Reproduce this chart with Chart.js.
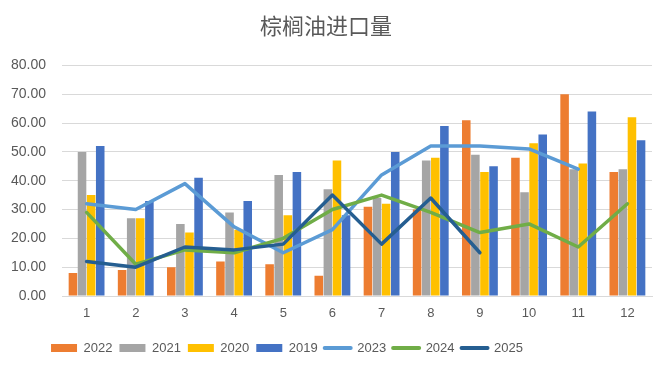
<!DOCTYPE html>
<html>
<head>
<meta charset="utf-8">
<script src="https://cdn.jsdelivr.net/npm/chart.js@4/dist/chart.umd.min.js"></script>
<style>
  body { margin: 0; background: #ffffff; }
  #box { width: 670px; height: 372px; }
</style>
</head>
<body>
<div id="box"><canvas id="grafico" width="670" height="372"></canvas></div>
<script>
// dati
var mesi = ['1', '2', '3', '4', '5', '6', '7', '8', '9', '10', '11', '12'];
var anno2022 = [8, 9, 10, 12, 11, 7, 31, 30, 61, 48, 70, 43];
var anno2021 = [50, 27, 25, 29, 42, 37, 34, 47, 49, 36, 44, 44];
var anno2020 = [35, 27, 22, 23, 28, 47, 32, 48, 43, 53, 46, 62];
var anno2019 = [52, 33, 41, 33, 43, 28, 50, 59, 45, 56, 64, 54];
var anno2023 = [32, 30, 39, 24, 15, 23, 42, 52, 52, 51, 44, null];
var anno2024 = [29, 11, 16, 15, 20, 30, 35, 29, 22, 25, 17, 32];
var anno2025 = [12, 10, 17, 16, 18, 35, 18, 34, 15, null, null, null];
var tickY = [0, 10, 20, 30, 40, 50, 60, 70, 80];

var grigioTesto = '#595959';

function barra(label, dati, colore) {
    return {
        type: 'bar',
        label: label,
        data: dati,
        backgroundColor: colore,
        borderWidth: 0,
        order: 4,
        categoryPercentage: 0.74,
        barPercentage: 0.94
    };
}

function linea(label, dati, colore, ordine) {
    return {
        type: 'line',
        label: label,
        data: dati,
        borderColor: colore,
        backgroundColor: colore,
        borderWidth: 3.5,
        pointRadius: 0,
        tension: 0,
        fill: false,
        order: ordine,
        borderCapStyle: 'round',
        borderJoinStyle: 'round'
    };
}

// sposta la legenda a sinistra come nell'originale
var spostaLegenda = {
    id: 'spostaLegenda',
    afterLayout: function(chart) {
        chart.legend.left -= 39;
        chart.legend.right -= 39;
    }
};

var ctx = document.getElementById('grafico');
var chart = new Chart(ctx, {
    plugins: [spostaLegenda],
    data: {
        labels: mesi,
        datasets: [
            barra('2022', anno2022, '#ED7D31'),
            barra('2021', anno2021, '#A5A5A5'),
            barra('2020', anno2020, '#FFC000'),
            barra('2019', anno2019, '#4472C4'),
            linea('2023', anno2023, '#5B9BD5', 3),
            linea('2024', anno2024, '#70AD47', 2),
            linea('2025', anno2025, '#255E91', 1)
        ]
    },
    options: {
        responsive: false,
        animation: false,
        layout: { padding: { left: 0, right: 18, top: 6, bottom: 7.5 } },
        plugins: {
            title: {
                display: true,
                text: '棕榈油进口量',
                color: grigioTesto,
                font: { family: '"Noto Sans CJK SC", sans-serif', size: 22, weight: 'normal' },
                padding: { top: 6, bottom: 27 }
            },
            tooltip: { enabled: false },
            legend: {
                position: 'bottom',
                labels: {
                    color: grigioTesto,
                    font: { family: '"Liberation Sans", sans-serif', size: 13 },
                    usePointStyle: true,
                    pointStyleWidth: 26,
                    boxHeight: 8,
                    padding: 7,
                    generateLabels: function(chart) {
                        var voci = Chart.defaults.plugins.legend.labels.generateLabels(chart);
                        voci.forEach(function(v) {
                            var ds = chart.data.datasets[v.datasetIndex];
                            if (ds.type === 'line') {
                                v.pointStyle = 'line';
                                v.lineWidth = 4;
                                v.strokeStyle = ds.borderColor;
                                v.lineCap = 'round';
                            } else {
                                v.pointStyle = 'rect';
                                v.lineWidth = 0;
                                v.fillStyle = ds.backgroundColor;
                                v.strokeStyle = ds.backgroundColor;
                            }
                        });
                        voci.sort(function(a, b) { return a.datasetIndex - b.datasetIndex; });
                        return voci;
                    }
                }
            }
        },
        scales: {
            x: {
                grid: { display: false },
                border: { color: '#D9D9D9' },
                afterFit: function(scala) { scala.height = 38.5; },
                ticks: {
                    color: grigioTesto,
                    font: { family: '"Liberation Sans", sans-serif', size: 13 },
                    padding: 2
                }
            },
            y: {
                min: tickY[0],
                max: tickY[tickY.length - 1],
                grid: { color: '#D9D9D9', drawTicks: false },
                border: { display: false },
                afterFit: function(scala) { scala.width = 62; },
                afterBuildTicks: function(scala) {
                    scala.ticks = tickY.map(function(v) { return { value: v }; });
                },
                ticks: {
                    color: grigioTesto,
                    font: { family: '"Liberation Sans", sans-serif', size: 14 },
                    padding: 16,
                    callback: function(v) { return Number(v).toFixed(2); }
                }
            }
        }
    }
});
</script>
</body>
</html>
